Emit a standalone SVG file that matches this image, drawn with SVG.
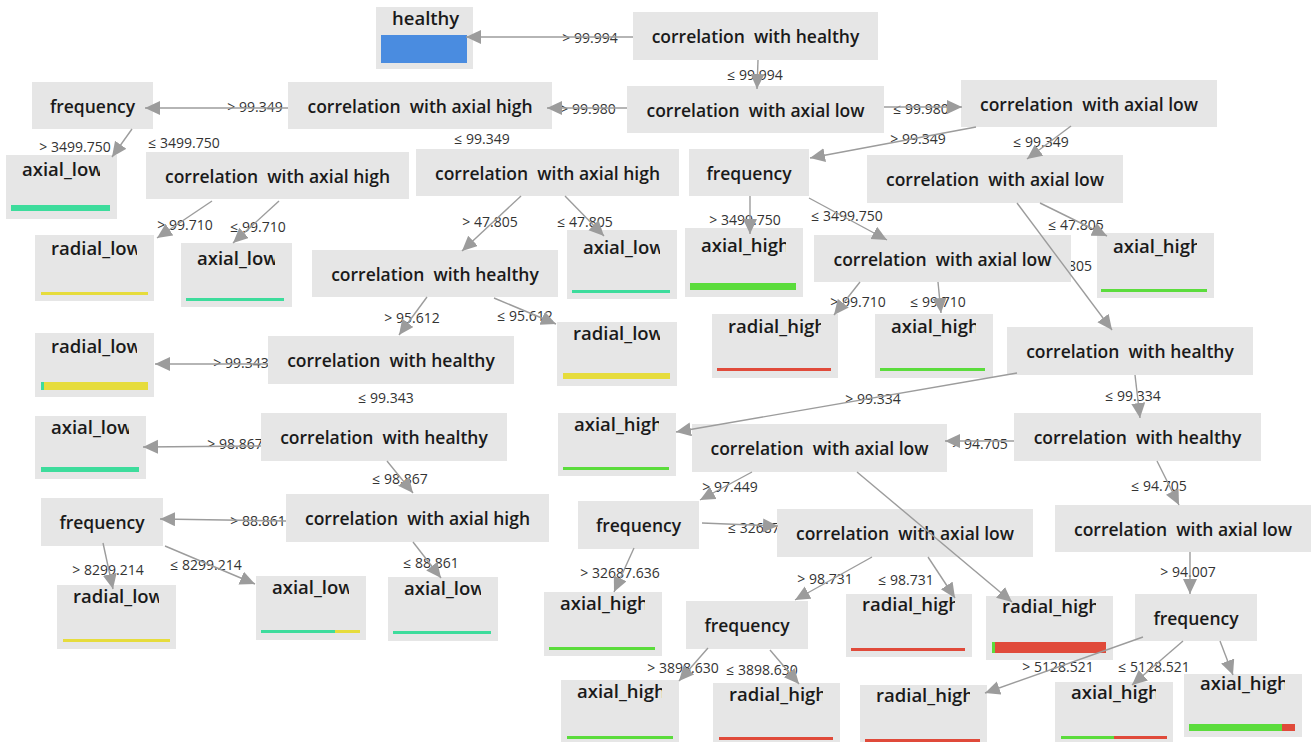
<svg xmlns="http://www.w3.org/2000/svg" width="1312" height="742" viewBox="0 0 1312 742">
<style>
.box{fill:#e6e6e6}
.t{font-family:"Open Sans","Noto Sans",sans-serif;font-size:17.5px;font-weight:600;fill:#1a1a1a;text-anchor:middle}
.lt{font-family:"Open Sans","Noto Sans",sans-serif;font-size:18.5px;font-weight:600;fill:#1a1a1a}
.el{font-family:"Open Sans","Noto Sans",sans-serif;font-size:14px;fill:#333;text-anchor:middle}
.c{stroke:#9c9c9c;stroke-width:1.4;fill:none;marker-end:url(#ah)}
.teal{fill:#3ddc9c}.yel{fill:#e6dc3c}.grn{fill:#5bdc3c}.red{fill:#e04a3a}.blue{fill:#4a8ce0}
</style>
<defs>
<marker id="ah" markerUnits="userSpaceOnUse" markerWidth="16" markerHeight="15" refX="15" refY="7" orient="auto">
<path d="M0,0 L15,7 L0,14 z" fill="#9c9c9c"/>
</marker>
</defs>
<rect width="1312" height="742" fill="#fff"/>

<g id="edge-labels">
<text class="el" x="590" y="43">&gt; 99.994</text>
<text class="el" x="755" y="80">≤ 99.994</text>
<text class="el" x="588" y="114">&gt; 99.980</text>
<text class="el" x="921" y="114">≤ 99.980</text>
<text class="el" x="255" y="112">&gt; 99.349</text>
<text class="el" x="482" y="144">≤ 99.349</text>
<text class="el" x="918" y="144">&gt; 99.349</text>
<text class="el" x="1041" y="147">≤ 99.349</text>
<text class="el" x="75" y="152">&gt; 3499.750</text>
<text class="el" x="184" y="148">≤ 3499.750</text>
<text class="el" x="185" y="230">&gt; 99.710</text>
<text class="el" x="258" y="232">≤ 99.710</text>
<text class="el" x="490" y="227">&gt; 47.805</text>
<text class="el" x="585" y="227">≤ 47.805</text>
<text class="el" x="745" y="225">&gt; 3499.750</text>
<text class="el" x="847" y="221">≤ 3499.750</text>
<text class="el" x="1076" y="230">≤ 47.805</text>
<text class="el" x="1092" y="271" style="text-anchor:end">&gt; 47.805</text>
<text class="el" x="858" y="307">&gt; 99.710</text>
<text class="el" x="938" y="307">≤ 99.710</text>
<text class="el" x="412" y="323">&gt; 95.612</text>
<text class="el" x="525" y="321">≤ 95.612</text>
<text class="el" x="241" y="368">&gt; 99.343</text>
<text class="el" x="386" y="403">≤ 99.343</text>
<text class="el" x="235" y="449">&gt; 98.867</text>
<text class="el" x="400" y="484">≤ 98.867</text>
<text class="el" x="873" y="404">&gt; 99.334</text>
<text class="el" x="1133" y="401">≤ 99.334</text>
<text class="el" x="980" y="449">&gt; 94.705</text>
<text class="el" x="1159" y="491">≤ 94.705</text>
<text class="el" x="258" y="526">&gt; 88.861</text>
<text class="el" x="431" y="568">≤ 88.861</text>
<text class="el" x="108" y="575">&gt; 8299.214</text>
<text class="el" x="206" y="570">≤ 8299.214</text>
<text class="el" x="730" y="492">&gt; 97.449</text>
<text class="el" x="620" y="578">&gt; 32687.636</text>
<text class="el" x="728" y="533" style="text-anchor:start">≤ 32687.636</text>
<text class="el" x="825" y="584">&gt; 98.731</text>
<text class="el" x="906" y="585">≤ 98.731</text>
<text class="el" x="683" y="673">&gt; 3898.630</text>
<text class="el" x="762" y="675">≤ 3898.630</text>
<text class="el" x="1188" y="577">&gt; 94.007</text>
<text class="el" x="1058" y="672">&gt; 5128.521</text>
<text class="el" x="1154" y="672">≤ 5128.521</text>
</g>

<g id="nodes">
<g id="n-root"><rect class="box" x="633" y="12" width="245" height="48"/><text class="t" x="755.5" y="43">correlation&#160; with healthy</text></g>
<g id="n-healthy"><rect class="box" x="376" y="7" width="97" height="62"/><svg x="376" y="7" width="84" height="26"><text class="lt" x="16" y="18">healthy</text></svg><rect class="blue" x="381" y="35" width="86" height="28"/></g>
<g id="n3"><rect class="box" x="627" y="86" width="257" height="47"/><text class="t" x="755.5" y="116.5">correlation&#160; with axial low</text></g>
<g id="n4"><rect class="box" x="288" y="82" width="264" height="47"/><text class="t" x="420" y="112.5">correlation&#160; with axial high</text></g>
<g id="n5"><rect class="box" x="961" y="80" width="256" height="47"/><text class="t" x="1089" y="110.5">correlation&#160; with axial low</text></g>
<g id="n6"><rect class="box" x="32" y="82" width="121" height="47"/><text class="t" x="92.5" y="112.5">frequency</text></g>
<g id="n7"><rect class="box" x="6" y="155" width="111" height="64"/><svg x="6" y="155" width="94" height="30"><text class="lt" x="16" y="21">axial_low</text></svg><rect class="teal" x="11" y="205" width="99" height="6"/></g>
<g id="n8"><rect class="box" x="146" y="152" width="263" height="47"/><text class="t" x="277.5" y="182.5">correlation&#160; with axial high</text></g>
<g id="n9"><rect class="box" x="416" y="149" width="263" height="47"/><text class="t" x="547.5" y="179.5">correlation&#160; with axial high</text></g>
<g id="n10"><rect class="box" x="689" y="149" width="120" height="47"/><text class="t" x="749" y="179.5">frequency</text></g>
<g id="n11"><rect class="box" x="867" y="155" width="256" height="48"/><text class="t" x="995" y="186">correlation&#160; with axial low</text></g>
<g id="n12"><rect class="box" x="35" y="235" width="119" height="66"/><svg x="35" y="235" width="102" height="30"><text class="lt" x="16" y="20">radial_low</text></svg><rect class="yel" x="41" y="292" width="107" height="3"/></g>
<g id="n13"><rect class="box" x="181" y="243" width="111" height="64"/><svg x="181" y="243" width="94" height="30"><text class="lt" x="16" y="22">axial_low</text></svg><rect class="teal" x="186" y="298" width="98" height="3"/></g>
<g id="n14"><rect class="box" x="312" y="250" width="246" height="47"/><text class="t" x="435" y="280.5">correlation&#160; with healthy</text></g>
<g id="n15"><rect class="box" x="567" y="230" width="110" height="69"/><svg x="567" y="230" width="93" height="30"><text class="lt" x="16" y="24">axial_low</text></svg><rect class="teal" x="572" y="290" width="98" height="3"/></g>
<g id="n16"><rect class="box" x="685" y="228" width="118" height="69"/><svg x="685" y="228" width="101" height="30"><text class="lt" x="16" y="24">axial_high</text></svg><rect class="grn" x="690" y="283" width="106" height="7"/></g>
<g id="n17"><rect class="box" x="814" y="235" width="257" height="47"/><text class="t" x="942.5" y="265.5">correlation&#160; with axial low</text></g>
<g id="n18"><rect class="box" x="1097" y="233" width="117" height="65"/><svg x="1097" y="233" width="100" height="30"><text class="lt" x="16" y="20">axial_high</text></svg><rect class="grn" x="1101" y="289" width="106" height="3"/></g>
<g id="n19"><rect class="box" x="35" y="333" width="119" height="64"/><svg x="35" y="333" width="102" height="30"><text class="lt" x="16" y="20">radial_low</text></svg><rect class="teal" x="41" y="382" width="3" height="8"/><rect class="yel" x="44" y="382" width="104" height="8"/></g>
<g id="n20"><rect class="box" x="268" y="336" width="246" height="48"/><text class="t" x="391" y="367">correlation&#160; with healthy</text></g>
<g id="n21"><rect class="box" x="557" y="322" width="120" height="64"/><svg x="557" y="322" width="103" height="30"><text class="lt" x="16" y="18">radial_low</text></svg><rect class="yel" x="563" y="373" width="107" height="6"/></g>
<g id="n22"><rect class="box" x="712" y="314" width="126" height="64"/><svg x="712" y="314" width="109" height="30"><text class="lt" x="16" y="19">radial_high</text></svg><rect class="red" x="717" y="368" width="114" height="3"/></g>
<g id="n23"><rect class="box" x="875" y="314" width="118" height="64"/><svg x="875" y="314" width="101" height="30"><text class="lt" x="16" y="19">axial_high</text></svg><rect class="grn" x="880" y="368" width="105" height="3"/></g>
<g id="n24"><rect class="box" x="1007" y="327" width="246" height="48"/><text class="t" x="1130" y="358">correlation&#160; with healthy</text></g>
<g id="n25"><rect class="box" x="35" y="416" width="111" height="63"/><svg x="35" y="416" width="94" height="30"><text class="lt" x="16" y="18">axial_low</text></svg><rect class="teal" x="41" y="467" width="98" height="5"/></g>
<g id="n26"><rect class="box" x="261" y="413" width="246" height="48"/><text class="t" x="384" y="444">correlation&#160; with healthy</text></g>
<g id="n27"><rect class="box" x="558" y="413" width="118" height="63"/><svg x="558" y="413" width="101" height="30"><text class="lt" x="16" y="18">axial_high</text></svg><rect class="grn" x="563" y="467" width="106" height="3"/></g>
<g id="n28"><rect class="box" x="692" y="424" width="255" height="48"/><text class="t" x="819.5" y="455">correlation&#160; with axial low</text></g>
<g id="n29"><rect class="box" x="1014" y="413" width="247" height="48"/><text class="t" x="1137.5" y="444">correlation&#160; with healthy</text></g>
<g id="n30"><rect class="box" x="41" y="498" width="122" height="48"/><text class="t" x="102" y="529">frequency</text></g>
<g id="n31"><rect class="box" x="286" y="494" width="263" height="48"/><text class="t" x="417.5" y="525">correlation&#160; with axial high</text></g>
<g id="n32"><rect class="box" x="578" y="501" width="121" height="48"/><text class="t" x="638.5" y="532">frequency</text></g>
<g id="n33"><rect class="box" x="777" y="509" width="256" height="48"/><text class="t" x="905" y="540">correlation&#160; with axial low</text></g>
<g id="n34"><rect class="box" x="1055" y="505" width="256" height="47"/><text class="t" x="1183" y="535.5">correlation&#160; with axial low</text></g>
<g id="n35"><rect class="box" x="57" y="585" width="119" height="64"/><svg x="57" y="585" width="102" height="30"><text class="lt" x="16" y="18">radial_low</text></svg><rect class="yel" x="63" y="639" width="107" height="3"/></g>
<g id="n36"><rect class="box" x="256" y="576" width="110" height="64"/><svg x="256" y="576" width="93" height="30"><text class="lt" x="16" y="18">axial_low</text></svg><rect class="teal" x="261" y="630" width="74" height="3"/><rect class="yel" x="335" y="630" width="25" height="3"/></g>
<g id="n37"><rect class="box" x="388" y="577" width="110" height="64"/><svg x="388" y="577" width="93" height="30"><text class="lt" x="16" y="18">axial_low</text></svg><rect class="teal" x="393" y="631" width="98" height="3"/></g>
<g id="n38"><rect class="box" x="544" y="592" width="118" height="64"/><svg x="544" y="592" width="101" height="30"><text class="lt" x="16" y="18">axial_high</text></svg><rect class="grn" x="549" y="647" width="106" height="3"/></g>
<g id="n39"><rect class="box" x="686" y="601" width="122" height="48"/><text class="t" x="747" y="632">frequency</text></g>
<g id="n40"><rect class="box" x="846" y="594" width="126" height="63"/><svg x="846" y="594" width="109" height="30"><text class="lt" x="16" y="17">radial_high</text></svg><rect class="red" x="851" y="648" width="114" height="3"/></g>
<g id="n41"><rect class="box" x="986" y="596" width="127" height="64"/><svg x="986" y="596" width="110" height="30"><text class="lt" x="16" y="17">radial_high</text></svg><rect class="grn" x="992" y="642" width="3" height="11"/><rect class="red" x="995" y="642" width="111" height="11"/></g>
<g id="n42"><rect class="box" x="1135" y="594" width="122" height="47"/><text class="t" x="1196" y="624.5">frequency</text></g>
<g id="n43"><rect class="box" x="561" y="680" width="118" height="64"/><svg x="561" y="680" width="101" height="30"><text class="lt" x="16" y="18">axial_high</text></svg><rect class="grn" x="567" y="736" width="106" height="3"/></g>
<g id="n44"><rect class="box" x="713" y="683" width="127" height="62"/><svg x="713" y="683" width="110" height="30"><text class="lt" x="16" y="18">radial_high</text></svg><rect class="red" x="719" y="737" width="114" height="3"/></g>
<g id="n45"><rect class="box" x="860" y="685" width="127" height="60"/><svg x="860" y="685" width="110" height="30"><text class="lt" x="16" y="17">radial_high</text></svg><rect class="red" x="865" y="739" width="115" height="3"/></g>
<g id="n46"><rect class="box" x="1055" y="682" width="118" height="62"/><svg x="1055" y="682" width="101" height="30"><text class="lt" x="16" y="17">axial_high</text></svg><rect class="grn" x="1061" y="736" width="53" height="3"/><rect class="red" x="1114" y="736" width="53" height="3"/></g>
<g id="n47"><rect class="box" x="1184" y="674" width="118" height="63"/><svg x="1184" y="674" width="101" height="30"><text class="lt" x="16" y="16">axial_high</text></svg><rect class="grn" x="1189" y="724" width="93" height="7"/><rect class="red" x="1282" y="724" width="13" height="7"/></g>
</g>

<g id="connectors">
<path class="c" d="M633,37 L466,37"/>
<path class="c" d="M758,60 L757,89"/>
<path class="c" d="M627,108 L547,108"/>
<path class="c" d="M884,107 L962,107"/>
<path class="c" d="M288,108 L145,108"/>
<path class="c" d="M976,127 L810,158"/>
<path class="c" d="M1071,126 L1027,159"/>
<path class="c" d="M132,129 L112,157"/>
<path class="c" d="M212,201 L157,238"/>
<path class="c" d="M279,201 L233,243"/>
<path class="c" d="M521,196 L462,251"/>
<path class="c" d="M565,196 L604,236"/>
<path class="c" d="M750,196 L750,234"/>
<path class="c" d="M809,198 L887,240"/>
<path class="c" d="M1040,203 L1107,236"/>
<path class="c" d="M1017,203 L1112,330"/>
<path class="c" d="M860,282 L834,315"/>
<path class="c" d="M938,282 L941,313"/>
<path class="c" d="M427,297 L399,335"/>
<path class="c" d="M494,298 L556,324"/>
<path class="c" d="M268,364 L155,364"/>
<path class="c" d="M261,446 L143,447"/>
<path class="c" d="M387,461 L413,493"/>
<path class="c" d="M1017,373 L676,432"/>
<path class="c" d="M1135,375 L1140,418"/>
<path class="c" d="M1014,441 L945,441"/>
<path class="c" d="M1157,461 L1179,505"/>
<path class="c" d="M286,521 L160,519"/>
<path class="c" d="M413,542 L441,578"/>
<path class="c" d="M103,543 L113,589"/>
<path class="c" d="M165,546 L255,584"/>
<path class="c" d="M752,472 L700,500"/>
<path class="c" d="M857,472 L1012,602"/>
<path class="c" d="M634,548 L614,592"/>
<path class="c" d="M702,523 L778,526"/>
<path class="c" d="M872,557 L795,600"/>
<path class="c" d="M928,557 L955,598"/>
<path class="c" d="M708,648 L679,681"/>
<path class="c" d="M770,650 L799,684"/>
<path class="c" d="M1190,552 L1190,594"/>
<path class="c" d="M1143,637 L985,693"/>
<path class="c" d="M1183,641 L1132,685"/>
<path class="c" d="M1220,641 L1233,675"/>
</g>
</svg>
